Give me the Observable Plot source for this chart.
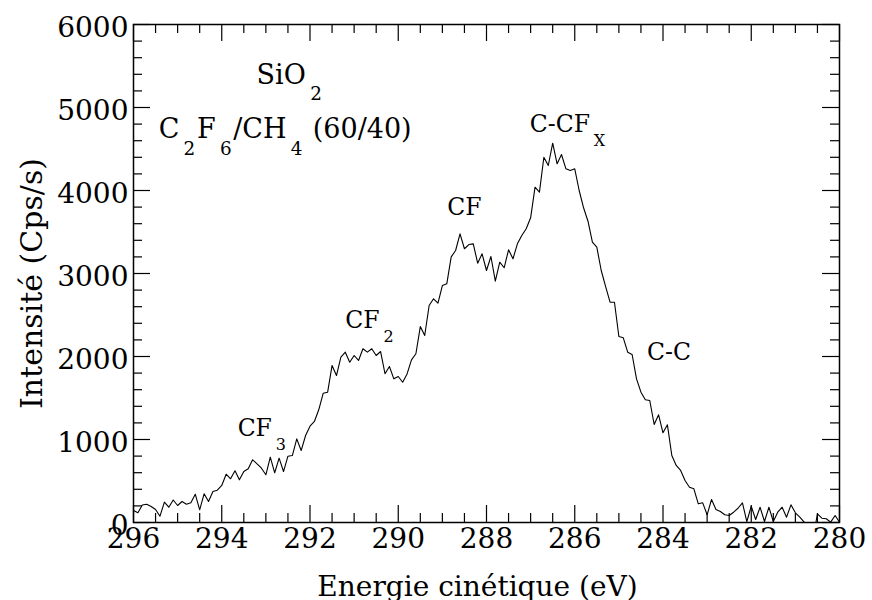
<!DOCTYPE html>
<html><head><meta charset="utf-8">
<script src="https://cdn.jsdelivr.net/npm/d3@7"></script>
<script src="https://cdn.jsdelivr.net/npm/@observablehq/plot@0.6"></script>
<style>body{margin:0;background:#fff}</style>
</head><body><div id="chart"></div>
<script>
// Kinetic energy (eV), 0.1 eV sampling
const energy = [
296.0,295.9,295.8,295.7,295.6,295.5,295.4,295.3,295.2,295.1,
295.0,294.9,294.8,294.7,294.6,294.5,294.4,294.3,294.2,294.1,
294.0,293.9,293.8,293.7,293.6,293.5,293.4,293.3,293.2,293.1,
293.0,292.9,292.8,292.7,292.6,292.5,292.4,292.3,292.2,292.1,
292.0,291.9,291.8,291.7,291.6,291.5,291.4,291.3,291.2,291.1,
291.0,290.9,290.8,290.7,290.6,290.5,290.4,290.3,290.2,290.1,
290.0,289.9,289.8,289.7,289.6,289.5,289.4,289.3,289.2,289.1,
289.0,288.9,288.8,288.7,288.6,288.5,288.4,288.3,288.2,288.1,
288.0,287.9,287.8,287.7,287.6,287.5,287.4,287.3,287.2,287.1,
287.0,286.9,286.8,286.7,286.6,286.5,286.4,286.3,286.2,286.1,
286.0,285.9,285.8,285.7,285.6,285.5,285.4,285.3,285.2,285.1,
285.0,284.9,284.8,284.7,284.6,284.5,284.4,284.3,284.2,284.1,
284.0,283.9,283.8,283.7,283.6,283.5,283.4,283.3,283.2,283.1,
283.0,282.9,282.8,282.7,282.6,282.5,282.4,282.3,282.2,282.1,
282.0,281.9,281.8,281.7,281.6,281.5,281.4,281.3,281.2,281.1,
281.0,280.9,280.8,280.7,280.6,280.5,280.4,280.3,280.2,280.1,
280.0
];
// Intensity (Cps/s)
const intensity = [
145,117,211,220,193,157,76,245,184,271,
205,253,220,237,341,153,346,253,373,389,
446,582,527,623,514,614,647,755,707,654,
575,787,599,775,614,799,807,1008,867,1048,
1160,1217,1361,1558,1570,1892,1771,1992,2052,1931,
2012,1952,2093,2052,2093,2012,2060,1792,1880,1731,
1759,1690,1790,1960,2033,2361,2253,2614,2695,2642,
2855,2876,3200,3277,3478,3298,3349,3357,3124,3237,
3036,3205,2907,3136,3069,3286,3177,3358,3458,3539,
3671,4040,3980,4401,4301,4570,4322,4434,4261,4241,
4261,4000,3792,3630,3377,3317,3036,2843,2654,2654,
2241,2225,2052,2024,1731,1570,1478,1470,1181,1298,
1081,1177,807,687,627,506,425,406,225,237,
93,277,157,133,93,84,124,172,237,12,
196,36,184,12,184,12,124,184,64,213,
117,64,4,-150,-200,105,52,45,4,84,
4
];

const xMajor = [296,294,292,290,288,286,284,282,280];
const xMinor = [295.5,295,294.5,293.5,293,292.5,291.5,291,290.5,289.5,289,288.5,287.5,287,286.5,285.5,285,284.5,283.5,283,282.5,281.5,281,280.5];
const yMajor = [0,1000,2000,3000,4000,5000,6000];
const yMinor = [200,400,600,800,1200,1400,1600,1800,2200,2400,2600,2800,3200,3400,3600,3800,4200,4400,4600,4800,5200,5400,5600,5800];

// Annotations ("_" marks a subscript character)
const sampleText = ["SiO_2", "C_2F_6/CH_4 (60/40)"];
const sampleX = [293.21, 295.43];
const sampleY = [5289, 4627];
const peakText = ["CF_3", "CF_2", "CF", "C-CF_X", "C-C"];
const peakX = [293.64, 291.20, 288.89, 287.02, 284.36];
const peakY = [1048, 2349, 3699, 4702, 1952];

const xTitle = "Energie cinétique (eV)";
const yTitle = "Intensité (Cps/s)";

const spectrum = energy.map((e, i) => ({e, v: intensity[i]}));
const samples = sampleText.map((t, i) => ({t, x: sampleX[i], y: sampleY[i]}));
const peaks = peakText.map((t, i) => ({t, x: peakX[i], y: peakY[i]}));

const W = 872, H = 600, mL = 133, mR = 33, mT = 24, mB = 78;
const innerW = W - mL - mR, innerH = H - mT - mB;
const majLen = 17, minLen = 9;
const fmt = d => String(d);

const chart = Plot.plot({
  width: W, height: H,
  marginLeft: mL, marginRight: mR, marginTop: mT, marginBottom: mB,
  style: {fontFamily: "DejaVu Serif", fontSize: "28px", background: "white", color: "black"},
  x: {domain: [296, 280], axis: null},
  y: {domain: [0, 6000], axis: null},
  marks: [
    // bottom / top ticks
    Plot.tickX(xMajor, {x: d => d, insetTop: innerH - majLen, stroke: "black", strokeWidth: 1.2}),
    Plot.tickX(xMinor, {x: d => d, insetTop: innerH - minLen, stroke: "black", strokeWidth: 1.2}),
    Plot.tickX(xMajor, {x: d => d, insetBottom: innerH - majLen, stroke: "black", strokeWidth: 1.2}),
    Plot.tickX(xMinor, {x: d => d, insetBottom: innerH - minLen, stroke: "black", strokeWidth: 1.2}),
    // left / right ticks
    Plot.tickY(yMajor, {y: d => d, insetRight: innerW - majLen, stroke: "black", strokeWidth: 1.2}),
    Plot.tickY(yMinor, {y: d => d, insetRight: innerW - minLen, stroke: "black", strokeWidth: 1.2}),
    Plot.tickY(yMajor, {y: d => d, insetLeft: innerW - majLen, stroke: "black", strokeWidth: 1.2}),
    Plot.tickY(yMinor, {y: d => d, insetLeft: innerW - minLen, stroke: "black", strokeWidth: 1.2}),
    Plot.axisX(xMajor, {anchor: "bottom", tickSize: 0, tickPadding: 6, tickFormat: fmt, fill: "black"}),
    Plot.axisY(yMajor, {anchor: "left", tickSize: 0, tickPadding: 5, dy: 4, tickFormat: fmt, fill: "black"}),
    Plot.line(spectrum, {x: "e", y: "v", stroke: "black", strokeWidth: 1.1, clip: true}),
    Plot.frame({stroke: "black", strokeWidth: 1.5}),
    Plot.text(samples, {x: "x", y: "y", text: "t", textAnchor: "start", lineAnchor: "bottom", fontSize: 27, fill: "black"}),
    Plot.text(peaks, {x: "x", y: "y", text: "t", textAnchor: "start", lineAnchor: "bottom", fontSize: 23.5, fill: "black"}),
    Plot.text([xTitle], {frameAnchor: "bottom", dy: 73, dx: -9, lineAnchor: "bottom", textAnchor: "middle", fontSize: 28, fill: "black"}),
    Plot.text([yTitle], {frameAnchor: "left", rotate: -90, dx: -92, dy: 10, lineAnchor: "bottom", textAnchor: "middle", fontSize: 30, fill: "black"})
  ]
});

// Render "_x" as subscripts with tspans
d3.select(chart).selectAll("text").each(function() {
  const s = this.textContent;
  if (!s.includes("_")) return;
  let fs = 22;
  let p = this;
  while (p && p !== chart) { const a = p.getAttribute && p.getAttribute("font-size"); if (a) { fs = parseFloat(a); break; } p = p.parentNode; }
  const parts = [];
  let buf = "";
  for (let i = 0; i < s.length; i++) {
    if (s[i] === "_" && i + 1 < s.length) {
      if (buf) parts.push({t: buf, sub: false});
      buf = "";
      parts.push({t: s[i + 1], sub: true});
      i++;
    } else buf += s[i];
  }
  if (buf) parts.push({t: buf, sub: false});
  const el = d3.select(this);
  el.text(null);
  const off = 0.6 * fs;
  let lowered = false;
  parts.forEach(pt => {
    const ts = el.append("tspan").text(pt.t);
    if (pt.sub) {
      ts.attr("font-size", (0.68 * fs).toFixed(1)).attr("dx", (0.16 * fs).toFixed(1));
      if (!lowered) { ts.attr("dy", off.toFixed(1)); lowered = true; }
    } else if (lowered) {
      ts.attr("dy", (-off).toFixed(1)).attr("dx", (0.06 * fs).toFixed(1)); lowered = false;
    }
  });
});

document.getElementById("chart").append(chart);
</script>
</body></html>
